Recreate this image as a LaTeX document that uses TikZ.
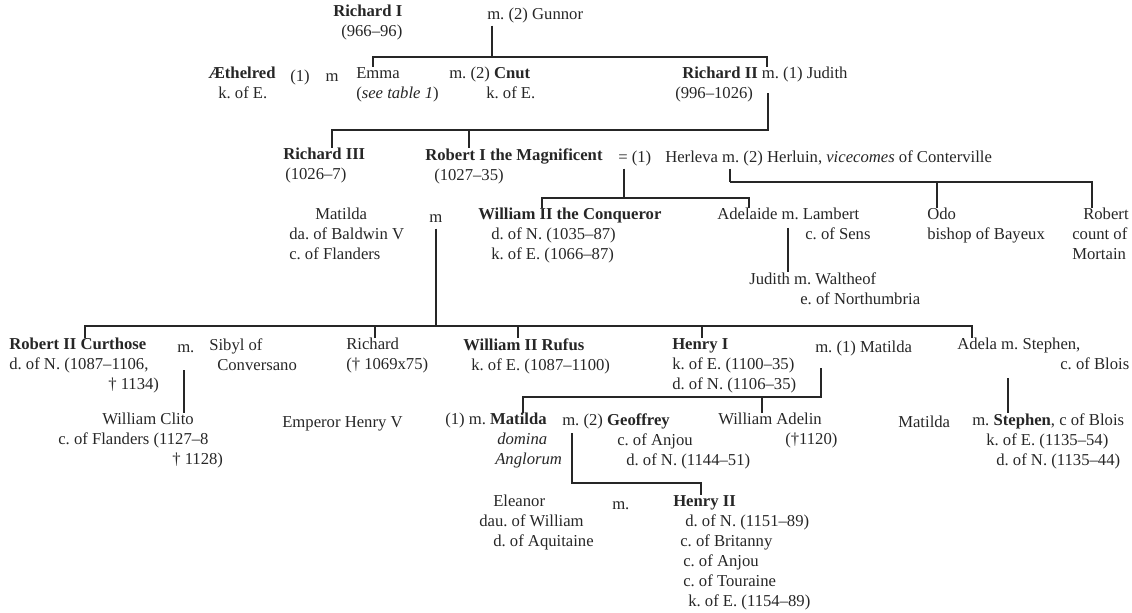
\documentclass[tikz,border=0pt]{standalone}
\usepackage{fontspec}
\setmainfont{Liberation Serif}
\usetikzlibrary{calc}
\frenchspacing
\newlength\pxl
\setlength\pxl{0.75pt}
\newcommand\ind[1]{\hspace*{#1\pxl}}

\begin{document}
\begin{tikzpicture}[x=0.75pt, y=-0.75pt, black!85]
    \tikzstyle{person}=[anchor=north west, inner sep=0pt, align=left,
        font=\fontsize{12.5}{15}\selectfont, execute at begin node=\strut]
    \tikzstyle{tree}=[draw, line width=1pt]
    \useasboundingbox (0,0) rectangle (1132,613);

    % generation of Richard I
    \node[person] (RI)    at (333,5)   {\textbf{Richard I}\\\ind{8}(966--96)};
    \node[person] (Gun)   at (487,5)   {m. (2) Gunnor};
    \node[person] (Aeth)  at (208,67)  {\textbf{Æthelred}\\\ind{10}k. of E.};
    \node[person] (AethM) at (290,67)  {(1)\ind{16}m};
    \node[person] (Emma)  at (356,67)  {Emma\\(\textit{see table 1})};
    \node[person] (Cnut)  at (449,67)  {m. (2) \textbf{Cnut}\\\ind{37}k. of E.};
    \node[person] (RII)   at (675,67)  {\ind{7}\textbf{Richard II} m. (1) Judith\\(996--1026)};

    % sons of Richard II
    \node[person] (RIII)  at (283,148) {\textbf{Richard III}\\\ind{2}(1026--7)};
    \node[person] (RobI)  at (425,148) {\textbf{Robert I the Magnificent}\\\ind{9}(1027--35)};
    \node[person] (Eq)    at (618,148) {= (1)};
    \node[person] (Herl)  at (665,148) {Herleva m. (2) Herluin, \textit{vicecomes} of Conterville};

    % children of Herleva
    \node[person] (MatF)  at (289,208) {\ind{26}Matilda\\da. of Baldwin V\\c. of Flanders};
    \node[person] (MatM)  at (429,208) {m};
    \node[person] (WillC) at (478,208) {\textbf{William II the Conqueror}\\\ind{13}d. of N. (1035--87)\\\ind{13}k. of E. (1066--87)};
    \node[person] (Adel)  at (717,208) {Adelaide m. Lambert\\\ind{88}c. of Sens};
    \node[person] (Odo)   at (927,208) {Odo\\bishop of Bayeux};
    \node[person] (RobM)  at (1072,208) {\ind{11}Robert\\count of\\Mortain};
    \node[person] (Jud)   at (749,272) {Judith m. Waltheof\\\ind{51}e. of Northumbria};

    % children of William
    \node[person] (Curt)  at (9,338)   {\textbf{Robert II Curthose}\\d. of N. (1087--1106,\\\ind{99}† 1134)};
    \node[person] (CurtM) at (177,338) {m.};
    \node[person] (Sib)   at (209,338) {Sibyl of\\\ind{8}Conversano};
    \node[person] (Rich)  at (346,338) {Richard\\(† 1069x75)};
    \node[person] (Ruf)   at (463,338) {\textbf{William II Rufus}\\\ind{8}k. of E. (1087--1100)};
    \node[person] (HenI)  at (672,338) {\textbf{Henry I}\\k. of E. (1100--35)\\d. of N. (1106--35)};
    \node[person] (HenM)  at (815,338) {m. (1) Matilda};
    \node[person] (Adela) at (957,338) {Adela m. Stephen,\\\ind{103}c. of Blois};

    % grandchildren
    \node[person] (Clito) at (58,413)  {\ind{44}William Clito\\c. of Flanders (1127--8\\\ind{114}† 1128)};
    \node[person] (Emp)   at (282,413) {Emperor Henry V};
    \node[person] (Maud)  at (445,413) {(1) m. \textbf{Matilda}\\\ind{52}\textit{domina}\\\ind{50}\textit{Anglorum}};
    \node[person] (Geof)  at (562,413) {m. (2) \textbf{Geoffrey}\\\ind{55}c. of Anjou\\\ind{64}d. of N. (1144--51)};
    \node[person] (Adelin) at (718,413) {William Adelin\\\ind{67}(†1120)};
    \node[person] (MatB)  at (898,413) {Matilda};
    \node[person] (Steph) at (972,413) {m. \textbf{Stephen}, c of Blois\\\ind{14}k. of E. (1135--54)\\\ind{24}d. of N. (1135--44)};
    \node[person] (Elea)  at (479,495) {\ind{14}Eleanor\\dau. of William\\\ind{14}d. of Aquitaine};
    \node[person] (EleaM) at (612,495) {m.};
    \node[person] (HenII) at (673,495) {\textbf{Henry II}\\\ind{12}d. of N. (1151--89)\\\ind{7}c. of Britanny\\\ind{10}c. of Anjou\\\ind{10}c. of Touraine\\\ind{15}k. of E. (1154--89)};

    % family bars
    \coordinate (b1) at (492,57);
    \coordinate (b2) at (768,130);
    \coordinate (b3) at (624,198);
    \coordinate (b4) at (730,182);
    \coordinate (b6) at (436,326);
    \coordinate (b8) at (821,397);
    \coordinate (b10) at (572,483);

    \draw[tree] ([xshift=5\pxl]Gun.south west) -- (b1);
    \draw[tree] ([xshift=17\pxl]Emma.north west) |- (b1) -| ([xshift=92\pxl]RII.north west);

    \draw[tree] ($(RII.south -| b2)+(0,-12)$) -- (b2) -| ([xshift=49\pxl]RIII.north west);
    \draw[tree] ([xshift=44\pxl]RobI.north west) |- (b2);

    \draw[tree] ([xshift=6\pxl]Eq.south west) -- (b3);
    \draw[tree] ([xshift=64\pxl]WillC.north west) |- (b3) -| ([xshift=32\pxl]Adel.north west);

    \draw[tree] ([xshift=65\pxl]Herl.south west) -- (b4);
    \draw[tree] (b4) -| ([xshift=10\pxl]Odo.north west);
    \draw[tree] (b4) -| ([xshift=20\pxl]RobM.north west);

    \draw[tree] ($(Adel.north west)+(71,20)$) -- ([xshift=39\pxl]Jud.north west);

    \draw[tree] ([xshift=7\pxl]MatM.south west) -- (b6);
    \draw[tree] ([xshift=76\pxl]Curt.north west) |- (b6) -| ([xshift=15\pxl]Adela.north west);
    \draw[tree] ([xshift=29\pxl]Rich.north west) |- (b6);
    \draw[tree] ([xshift=55\pxl]Ruf.north west) |- (b6);
    \draw[tree] ([xshift=30\pxl]HenI.north west) |- (b6);

    \draw[tree] ($(CurtM.north west)+(7,32)$) -- ([xshift=126\pxl]Clito.north west);

    \draw[tree] ($(HenM.north west)+(6,30)$) -- (b8) -| ([xshift=78\pxl]Maud.north west);
    \draw[tree] ([xshift=44\pxl]Adelin.north west) |- (b8);

    \draw[tree] ($(Adela.north west)+(51,40)$) -- ([xshift=36\pxl]Steph.north west);

    \draw[tree] ($(Geof.north west)+(10,20)$) -- (b10) -| ([xshift=28\pxl]HenII.north west);

\end{tikzpicture}
\end{document}
